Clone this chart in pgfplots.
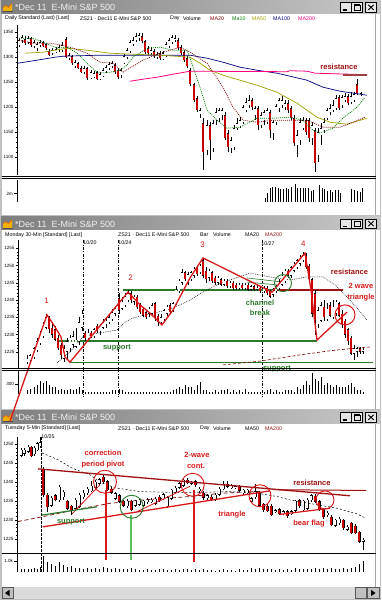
\documentclass[border=0pt]{standalone}
\usepackage{fontspec}
\setmainfont{Liberation Sans}
\usepackage{pgfplots}
\usepackage{pgfplotstable}
\pgfplotsset{compat=1.18}

\definecolor{winbg}{HTML}{C0C0C0}
\definecolor{tbL}{HTML}{7E7E7E}
\definecolor{tbR}{HTML}{C8C8C8}
\definecolor{tbT}{HTML}{F0F0F0}
\definecolor{btn}{HTML}{E6E6E6}
\definecolor{candred}{HTML}{C80000}
\definecolor{annred}{HTML}{D81818}
\definecolor{darkred}{HTML}{A01010}
\definecolor{suppgreen}{HTML}{2A7A2A}
\definecolor{ltgreen}{HTML}{5CBF5C}
\definecolor{maten}{HTML}{008000}
\definecolor{matwenty}{HTML}{800000}
\definecolor{mafifty}{HTML}{A0A000}
\definecolor{mahundred}{HTML}{000080}
\definecolor{matwohundred}{HTML}{FF0080}
\definecolor{icony}{HTML}{F0B000}

\newcommand\tf{\fontsize{4.6}{5}\selectfont}
\newcommand\subf{\fontsize{5.3}{6}\selectfont}
\newcommand\af{\fontsize{7.5}{8}\selectfont\bfseries}

% ---------------- data -----------------
\pgfplotstableread{
x o h l c
19 1323 1337 1319 1333
22 1333 1343 1327 1339
25 1335 1341 1323 1327
28 1329 1341 1325 1337
31 1337 1339 1319 1323
34 1321 1333 1317 1329
37 1317 1329 1311 1325
40 1323 1333 1319 1329
43 1329 1331 1319 1321
46 1325 1327 1313 1317
49 1311 1315 1301 1303
52 1307 1317 1303 1313
56 1309 1319 1307 1315
59 1313 1323 1309 1319
62 1313 1329 1309 1323
66 1335 1339 1297 1299
69 1297 1307 1293 1303
72 1301 1303 1283 1287
75 1281 1293 1277 1289
78 1287 1289 1275 1277
81 1277 1281 1267 1269
84 1269 1281 1265 1277
87 1277 1279 1253 1257
91 1257 1273 1255 1269
94 1259 1271 1257 1267
97 1269 1271 1253 1255
100 1255 1269 1253 1265
103 1261 1277 1259 1273
106 1271 1283 1267 1279
109 1277 1289 1273 1285
112 1281 1291 1277 1287
115 1283 1287 1265 1269
118 1273 1277 1255 1259
121 1263 1277 1257 1273
124 1287 1305 1285 1301
127 1299 1317 1295 1313
130 1311 1333 1307 1329
133 1325 1339 1321 1333
136 1333 1347 1329 1341
139 1337 1347 1331 1343
142 1341 1347 1327 1331
145 1331 1333 1305 1309
148 1317 1321 1303 1307
151 1307 1319 1303 1313
154 1311 1315 1297 1301
157 1299 1309 1295 1305
160 1307 1311 1293 1297
163 1295 1311 1293 1307
166 1301 1329 1299 1325
169 1321 1337 1317 1333
172 1329 1343 1325 1339
175 1333 1343 1329 1337
178 1333 1337 1313 1317
181 1319 1323 1303 1307
184 1309 1313 1289 1293
187 1297 1301 1277 1281
190 1273 1277 1241 1245
194 1245 1247 1209 1213
197 1217 1221 1189 1193
200 1185 1197 1177 1193
203 1167 1177 1073 1109
207 1113 1173 1103 1163
210 1163 1169 1093 1133
213 1117 1173 1109 1167
216 1173 1197 1163 1189
219 1177 1197 1169 1193
222 1183 1197 1173 1193
225 1183 1189 1133 1137
228 1147 1153 1109 1119
231 1117 1139 1107 1133
234 1119 1163 1113 1157
237 1157 1177 1153 1167
240 1161 1179 1157 1173
243 1169 1203 1165 1199
246 1193 1217 1189 1209
249 1203 1223 1197 1213
252 1213 1217 1193 1199
255 1183 1201 1173 1197
258 1197 1201 1153 1163
261 1163 1189 1157 1183
264 1173 1193 1163 1189
267 1169 1197 1165 1193
270 1189 1193 1137 1153
273 1147 1173 1133 1169
276 1169 1205 1163 1201
279 1197 1217 1189 1213
282 1203 1221 1197 1213
285 1199 1213 1193 1207
288 1207 1213 1187 1193
291 1197 1201 1173 1177
294 1177 1183 1121 1127
297 1123 1153 1099 1143
300 1133 1177 1123 1169
303 1157 1179 1153 1173
306 1173 1177 1143 1149
309 1173 1177 1129 1137
312 1137 1169 1123 1163
315 1153 1157 1069 1087
318 1103 1157 1089 1149
321 1143 1167 1123 1157
324 1153 1177 1147 1169
327 1177 1197 1173 1193
330 1189 1205 1183 1197
333 1193 1213 1189 1203
336 1197 1223 1193 1217
339 1219 1223 1193 1197
342 1203 1223 1197 1219
345 1213 1227 1209 1221
348 1221 1225 1203 1207
351 1209 1229 1205 1221
354 1213 1229 1209 1225
357 1245 1255 1223 1227
361 1225 1229 1221 1227
}\dA

\pgfplotstableread{
x v
265 0.8
267.5 2.2
270 3.4
272.7 3.5
275.3 3.5
278 3.4
280.7 3.1
283.3 3.0
286 3.2
288.7 3.1
291.3 3.5
295 4.3
297.7 3.4
300.3 3.3
303 3.2
305.7 3.2
308.3 3.2
311 2.5
313.7 2.7
319.3 4.1
322 3.2
324.7 3.1
327.3 2.6
330 2.9
332.7 2.3
335.3 2.8
338 2.8
340.7 2.2
351.7 3.0
354.3 2.9
357 2.5
360 2.4
362.7 3.3
}\vA

\pgfplotstableread{
x o h l c
27 1222 1224 1221.5 1223
30 1222.5 1224.5 1222 1224
34 1223.5 1226.5 1223 1226
37 1225.5 1229 1225 1228
40 1227.5 1231 1227 1230
43 1229.5 1233.5 1229 1232.5
46 1232 1236 1231.5 1235
49 1235 1235.5 1230.5 1231.5
52 1232 1233.5 1229 1230
55 1231.5 1232.5 1228 1228.5
58 1229 1230 1225.5 1226
61 1227 1227.5 1223 1224
64 1223 1227 1222 1226
67 1225 1229 1222.5 1228
70 1226 1230 1225 1229
73 1227 1231 1226 1229.5
76 1226.5 1232 1226 1228.5
79 1228 1235 1227 1233.5
82 1232 1237 1231 1236
85 1230.5 1231 1228 1229
88 1229 1231.5 1228.5 1230.5
91 1230.5 1231 1229 1229.5
94 1229.5 1232 1229 1231.5
97 1232.5 1233 1230.5 1231
100 1231 1233 1230 1232.5
103 1232 1234.5 1231.5 1233.5
106 1233 1235 1232 1234
109 1233.5 1236 1233 1235
112 1234.5 1237.5 1234 1236.5
115 1236 1238 1235.5 1237.5
119 1240.5 1242 1236 1237
122 1237.5 1241 1237 1239.5
125 1238.5 1242 1238 1241
128 1240 1243 1239.5 1242
131 1242 1242.5 1239 1240
134 1239.5 1241.5 1238.5 1241
137 1241 1241.5 1237.5 1238
140 1238.5 1239 1236 1236.5
143 1237.5 1238 1235 1235.5
146 1236.5 1237 1234.5 1235
149 1236 1238 1235 1237.5
152 1236 1239 1235.5 1238.5
155 1239 1239.5 1234 1235
158 1235.5 1236 1232.5 1233.5
161 1233.5 1236 1233 1235
164 1234.5 1237.5 1234 1237
167 1236 1238.5 1235.5 1238
170 1238.5 1239 1236 1236.5
173 1237 1239.5 1236.5 1239
176 1239 1244 1238.5 1243
179 1242.5 1246 1242 1245.5
182 1245 1249 1244.5 1248
185 1248 1248.5 1245.5 1246
188 1245 1248 1244.5 1247.5
191 1246 1248.5 1245.5 1248
194 1247 1249.5 1246.5 1249
197 1249.5 1250 1247 1247.5
200 1248 1250.5 1247.5 1250
203 1251.5 1252 1246.5 1247
206 1248.5 1249.5 1245 1246
209 1246.5 1249 1245.5 1248.5
212 1248 1248.5 1245 1245.5
215 1246.5 1247 1244.5 1245
218 1245 1247 1244.5 1246.5
221 1246 1246.5 1244 1244.5
224 1244.5 1246 1244 1245.5
227 1245.5 1246 1243.5 1244
230 1244 1245.5 1243.5 1245
233 1245 1245.5 1243 1243.5
236 1244.5 1245 1243 1243.5
239 1243.5 1245 1243 1244.5
242 1244.5 1245 1243 1243.5
245 1243.5 1245 1243 1244.5
248 1244.5 1245 1242.5 1243
251 1243 1244.5 1242.5 1244
254 1244 1244.5 1242.5 1243
257 1243 1244.5 1242.5 1243.5
260 1243.5 1244 1242 1242.5
264 1242.5 1244 1242 1243.5
267 1243.5 1244 1241.5 1242
270 1242.5 1243 1240.5 1241
273 1241.5 1243.5 1241 1243
276 1242.5 1244.5 1242 1244
279 1243.5 1246 1243 1245
282 1244.5 1248 1244 1247
285 1245.5 1249 1245 1248.5
288 1248.5 1249 1246.5 1247
291 1247 1250 1246.5 1249.5
294 1248.5 1251 1248 1250.5
297 1249.5 1252 1249 1251.5
300 1250.5 1253 1250 1252.5
303 1251.5 1254 1251 1253
306 1253 1253.5 1249 1249.5
309 1250 1250.5 1245.5 1246
312 1246 1246.5 1235 1236
315 1242 1243 1230 1234
318 1233 1238 1232 1237
321 1234 1239.5 1233.5 1238.5
324 1238 1240 1234 1235
327 1234.5 1239 1234 1237.5
330 1238.5 1239.5 1235 1235.5
333 1235 1240 1234.5 1238
336 1236 1240 1235.5 1239.5
339 1239 1239.5 1235 1235.5
342 1236 1237 1232 1233
345 1234 1234.5 1229 1230
348 1231.5 1232 1227 1228
351 1229 1229.5 1224 1224.5
354 1224.5 1227 1222.5 1226
357 1225 1226.5 1223.5 1226
360 1226 1226.5 1224.5 1225
363 1225 1226 1224.5 1225.5
}\dB

\pgfplotstableread{
x v
27 95
30 158
34 221
37 284
40 379
43 316
46 379
49 284
52 221
55 190
58 126
61 158
64 95
67 126
70 158
73 126
76 158
79 190
82 95
85 63
88 63
91 63
94 32
97 32
100 63
103 32
106 63
109 63
112 95
115 126
119 158
122 95
125 63
128 63
131 63
134 32
137 63
140 32
143 32
146 32
149 32
152 63
155 32
158 63
161 63
164 32
167 63
170 32
173 95
176 158
179 190
182 158
185 253
188 190
191 221
194 126
197 284
200 348
203 126
206 95
209 63
212 63
215 95
218 63
221 126
224 95
227 158
230 63
233 95
236 63
239 95
242 63
245 158
248 63
251 63
254 32
257 32
260 63
264 63
267 95
270 158
273 63
276 95
279 32
282 63
285 95
288 95
291 126
294 63
297 190
300 158
303 253
306 379
309 253
312 632
315 442
318 379
321 506
324 284
327 316
330 253
333 221
336 284
339 190
342 221
345 190
348 253
351 316
354 190
357 126
360 95
363 63
}\vB

\pgfplotstableread{
x o h l c
21 1247 1249 1246.5 1248.5
24 1247.5 1249 1247 1248.6
28 1248 1249.8 1247.7 1249.3
31 1249.3 1249.6 1246.5 1246.8
34 1247.4 1249.4 1247 1249
37 1248.5 1250.6 1248.2 1250.2
40 1249.5 1251.8 1249 1250.5
43 1243.5 1244 1236 1236.6
47 1236.6 1237 1232 1233.4
51 1233.8 1236.4 1233.4 1235.8
55 1236.5 1236.8 1235 1235.3
59 1235.2 1239.2 1234.7 1238.8
63 1236 1238 1235.4 1237.5
67 1235 1235.4 1232.6 1233
71 1233.8 1234 1231.3 1232.6
75 1233 1235.8 1232.8 1235.3
79 1233.5 1237 1233.2 1236.6
83 1236 1237.8 1235.6 1237.2
87 1237 1238.6 1236.6 1238.2
91 1237.6 1240.2 1237.3 1239
95 1238.5 1240.6 1238.2 1240
99 1239.6 1241.2 1239.2 1240.7
103 1241.4 1241.9 1239.6 1240
107 1240.2 1240.6 1237.6 1237.9
111 1238.2 1238.6 1236.8 1237.2
115 1235.6 1237.4 1235.2 1237
119 1236.5 1236.8 1234.4 1234.8
123 1235 1235.4 1233.4 1233.8
127 1233.6 1235.5 1233.2 1235.1
131 1235 1235.4 1232.3 1232.6
135 1233.8 1235.4 1233.5 1235
139 1234 1235.8 1233.8 1235.4
143 1233.8 1235.4 1233.5 1235
147 1234.7 1235.8 1234.3 1235.4
151 1234.7 1235.8 1234.4 1235.4
155 1234.3 1236.2 1234 1235.6
159 1236.2 1236.6 1234.7 1235
163 1235.5 1237.2 1235.2 1236.8
167 1233.6 1236.4 1233.2 1236
171 1235.6 1238.3 1235.3 1237.9
175 1237.4 1238.9 1237 1238.5
179 1238.5 1240.1 1238.2 1239.7
183 1239.1 1241 1238.8 1240.6
187 1240.6 1241.2 1239.4 1239.7
191 1239.6 1240.4 1239.2 1240
195 1240.2 1240.6 1238.8 1239.2
199 1237.6 1238.6 1237.2 1238.2
203 1237.2 1237.6 1235.4 1235.9
207 1235.7 1236.9 1235.3 1236.5
211 1236.2 1236.6 1234.9 1235.3
215 1235.4 1237.1 1235.1 1236.7
219 1236.7 1238.6 1236.4 1238.2
223 1238.1 1240.2 1237.8 1239.5
227 1239.6 1240.4 1238.4 1238.8
231 1238.4 1239.5 1238.1 1239.1
235 1238.6 1239.2 1238.3 1238.9
239 1238.9 1239.2 1237.3 1237.7
243 1237 1238.3 1236.6 1237.9
247 1237 1238.3 1236.6 1237.9
251 1234.8 1236.1 1234.4 1235.7
255 1236 1239.4 1235.6 1237.6
259 1237.2 1237.6 1233.4 1233.8
263 1234.2 1234.6 1232 1232.6
267 1233.8 1234.2 1232 1232.4
271 1233.8 1234.2 1231 1231.3
275 1232.2 1233 1231.8 1232.6
279 1232.8 1233.2 1231.2 1231.6
283 1231.5 1232.7 1231.2 1232.3
287 1232.3 1232.7 1230.6 1231
291 1231.5 1232.7 1231.2 1232.3
295 1232.5 1235.4 1232.2 1235
299 1235.2 1235.6 1233.3 1233.7
303 1232.6 1235.4 1232.2 1235
307 1233 1235.7 1232.6 1235.3
311 1235.2 1236.9 1234.8 1236.5
315 1236.4 1236.8 1234.4 1234.8
319 1234.9 1235.3 1232.3 1232.7
323 1232.8 1233.2 1230.4 1230.8
327 1231.2 1232.3 1230.8 1231.9
331 1230.9 1231.2 1228.3 1228.7
335 1228.5 1230.4 1228.1 1230
339 1229.2 1230.7 1228.8 1230.3
343 1230 1230.4 1227.4 1227.8
347 1227.5 1228.6 1227.1 1228.2
351 1229.2 1229.6 1226.2 1226.6
355 1228.5 1228.9 1226.2 1226.6
359 1226.9 1227.2 1223.9 1224.3
363 1224.3 1225.2 1222.1 1224.8
}\dC

\pgfplotstableread{
x v
21 281
24 281
28 281
31 281
34 374
37 281
40 468
43 1496
47 935
51 748
55 561
59 935
63 655
67 468
71 561
75 374
79 374
83 281
87 374
91 281
95 374
99 281
103 468
107 374
111 281
115 374
119 281
123 281
127 281
131 374
135 281
139 187
143 187
147 281
151 187
155 187
159 281
163 281
167 187
171 187
175 281
179 187
183 281
187 281
191 187
195 281
199 187
203 281
207 187
211 187
215 94
219 187
223 281
227 187
231 187
235 94
239 281
243 187
247 187
251 374
255 281
259 374
263 281
267 281
271 281
275 187
279 281
283 187
287 281
291 187
295 374
299 281
303 281
307 281
311 281
315 374
319 281
323 374
327 281
331 374
335 281
339 281
343 374
347 281
351 374
355 468
359 748
363 1029
}\vC

% ---------------- helpers -----------------
\newcommand\candles[4]{%
\addplot[draw=none, mark=none, forget plot, error bars/.cd, y dir=plus, y explicit, error mark=none, error bar style={draw=black, line width=0.5pt}] table[x=x, y=l, y error expr=\thisrow{h}-\thisrow{l}] {#1};
\addplot[draw=none, mark=none, forget plot, restrict expr to domain={\thisrow{c}-\thisrow{o}}{0:100000}, error bars/.cd, y dir=plus, y explicit, error mark=none, error bar style={draw=black, line width=#2}] table[x=x, y=o, y error expr=\thisrow{c}-\thisrow{o}] {#1};
\addplot[draw=none, mark=none, forget plot, restrict expr to domain={\thisrow{c}-\thisrow{o}}{0:100000}, error bars/.cd, y dir=plus, y explicit, error mark=none, error bar style={draw=white, line width=#3}] table[x=x, y expr=\thisrow{o}+#4, y error expr={max(\thisrow{c}-\thisrow{o}-2*#4,0)}] {#1};
\addplot[draw=none, mark=none, forget plot, restrict expr to domain={\thisrow{c}-\thisrow{o}}{-100000:-0.00001}, error bars/.cd, y dir=plus, y explicit, error mark=none, error bar style={draw=black, line width=#2}] table[x=x, y=c, y error expr=\thisrow{o}-\thisrow{c}] {#1};
\addplot[draw=none, mark=none, forget plot, restrict expr to domain={\thisrow{c}-\thisrow{o}}{-100000:-0.00001}, error bars/.cd, y dir=plus, y explicit, error mark=none, error bar style={draw=candred, line width=#3}] table[x=x, y expr=\thisrow{c}+#4, y error expr={max(\thisrow{o}-\thisrow{c}-2*#4,0)}] {#1};
}

\newcommand\titlebar[1]{%
\shade[left color=tbL, right color=tbR] (1,#1) rectangle (380,#1+13);
\fill[icony] (3,#1+11) -- (3,#1+7) -- (6,#1+5) -- (8.5,#1+7) -- (12,#1+3) -- (12,#1+11) -- cycle;
\draw[black!70, line width=0.5] (2.5,#1+11) -- (12.5,#1+11);
\draw[orange!80!red, line width=0.6] (3,#1+7) -- (6,#1+5) -- (8.5,#1+7) -- (12,#1+3);
\node[anchor=west, text=tbT, font=\fontsize{9}{9}\selectfont, inner sep=0] at (15,#1+7) {*Dec 11\hspace{5pt}E-Mini S\&P 500};
\foreach \bx in {340,351.5,365.5}{%
  \fill[btn] (\bx,#1+2) rectangle (\bx+11,#1+11.5);
  \draw[black, line width=0.5] (\bx,#1+2) rectangle (\bx+11,#1+11.5);
}
\draw[black, line width=1.2] (342.5,#1+9.5) -- (347,#1+9.5);
\draw[black, line width=0.6] (354,#1+4.3) rectangle (360,#1+9.8);
\draw[black, line width=1.3] (354,#1+4.6) -- (360,#1+4.6);
\draw[black, line width=0.9] (368.3,#1+4.3) -- (373.7,#1+9.3) (368.3,#1+9.3) -- (373.7,#1+4.3);
}

\pgfplotsset{
 pbase/.style={scale only axis, anchor=north west, xmin=17, xmax=375,
   axis x line=none, axis y line*=left,
   axis line style={black, line width=0.6pt},
   tick align=outside, major tick length=2.5pt, minor tick length=1.3pt,
   tick style={black, line width=0.4pt},
   yticklabel style={font=\tf, inner sep=0.8pt},
   xticklabel style={font=\tf, inner sep=1pt},
   filter discard warning=false},
 vbase/.style={pbase, axis x line*=bottom, ymin=0, major tick length=3pt}
}

\begin{document}
\begin{tikzpicture}[x=1pt,y=-1pt]
\fill[winbg] (0,0) rectangle (381,600);
\fill[white] (1.5,14) rectangle (379.5,214.5);
\fill[white] (1.5,230) rectangle (379.5,409);
\fill[white] (1.5,423.5) rectangle (379.5,587);
\titlebar{0.5}
\titlebar{216.8}
\titlebar{410.5}
\draw[black!35, line width=0.8] (375.5,14) -- (375.5,214.5) (375.5,230) -- (375.5,409) (375.5,423.5) -- (375.5,587);
% scrollbar
\fill[black!14] (1.5,587.3) rectangle (379.5,598.7);
\fill[winbg] (2,587.5) rectangle (13,598.5);
\draw[black!65, line width=0.5] (2,587.5) rectangle (13,598.5);
\fill[black] (5,593) -- (9.5,589.8) -- (9.5,596.2) -- cycle;
\fill[winbg] (355,587.5) rectangle (366.5,598.5);
\draw[black!65, line width=0.5] (355,587.5) rectangle (366.5,598.5);
\fill[winbg] (367,587.5) rectangle (379,598.5);
\draw[black!65, line width=0.5] (367,587.5) rectangle (379,598.5);
\fill[black] (375.5,593) -- (371,589.8) -- (371,596.2) -- cycle;

% subtitles
\node[anchor=west, inner sep=0, font=\subf] at (5,18.6) {Daily Standard (Last) [Last]};
\node[anchor=west, inner sep=0, font=\subf] at (80,18.6) {ZS21 · Dec11 E-Mini S\&P 500};
\node[anchor=west, inner sep=0, font=\subf] at (170,18.6) {Day};
\node[anchor=west, inner sep=0, font=\subf] at (183,18.6) {Volume};
\node[anchor=west, inner sep=0, font=\subf, text=matwenty] at (210,18.6) {MA20};
\node[anchor=west, inner sep=0, font=\subf, text=maten] at (232,18.6) {Ma10};
\node[anchor=west, inner sep=0, font=\subf, text=mafifty] at (252,18.6) {MA50};
\node[anchor=west, inner sep=0, font=\subf, text=mahundred] at (273,18.6) {MA100};
\node[anchor=west, inner sep=0, font=\subf, text=matwohundred] at (298,18.6) {MA200};

\node[anchor=west, inner sep=0, font=\subf] at (5,235) {Monday 30-Min [Standard] [Last]};
\node[anchor=west, inner sep=0, font=\subf] at (118,235) {ZS21 · Dec11 E-Mini S\&P 500};
\node[anchor=west, inner sep=0, font=\subf] at (200,235) {Bar};
\node[anchor=west, inner sep=0, font=\subf] at (213,235) {Volume};
\node[anchor=west, inner sep=0, font=\subf] at (245,235) {MA20};
\node[anchor=west, inner sep=0, font=\subf, text=darkred] at (265,235) {MA200};

\node[anchor=west, inner sep=0, font=\subf] at (5,428.3) {Tuesday 5-Min [Standard] [Last]};
\node[anchor=west, inner sep=0, font=\subf] at (118,428.3) {ZS21 · Dec11 E-Mini S\&P 500};
\node[anchor=west, inner sep=0, font=\subf] at (200,428.3) {Day};
\node[anchor=west, inner sep=0, font=\subf] at (213,428.3) {Volume};
\node[anchor=west, inner sep=0, font=\subf] at (245,428.3) {MA50};
\node[anchor=west, inner sep=0, font=\subf, text=darkred] at (265,428.3) {MA200};

% ================= PANEL 1 =================
\begin{axis}[pbase, at={(17pt,-25pt)}, width=358pt, height=150pt,
  ymin=1063.4, ymax=1363.4, ytick={1100,1150,1200,1250,1300,1350},
  yticklabels={1100,1150,1200,1250,1300,1350}, minor y tick num=4]
\candles{\dA}{2.4pt}{1.5pt}{0.9}
\addplot[mahundred, line width=0.7pt] coordinates {(18,1287) (37,1293) (55,1299) (63,1301) (100,1303) (150,1303) (190,1303) (207,1297) (223,1289) (240,1279) (257,1273) (277,1267) (290,1261) (307,1253) (323,1239) (340,1231) (367,1223)};
\addplot[mafifty, line width=0.7pt] coordinates {(25,1307) (43,1309) (67,1317) (87,1313) (110,1307) (133,1305) (160,1303) (190,1299) (200,1287) (210,1273) (223,1263) (240,1253) (257,1243) (277,1229) (297,1207) (317,1179) (330,1169) (347,1165) (367,1177)};
\addplot[matwohundred, line width=0.8pt] coordinates {(130,1251) (143,1255) (157,1259) (173,1265) (190,1271) (287,1270) (290,1272) (307,1271) (315,1267) (367,1264)};
\addplot[matwenty, line width=0.7pt, dash pattern=on 1pt off 1pt] coordinates {(19,1333) (33,1327) (50,1327) (62,1323) (73,1317) (87,1307) (100,1289) (113,1287) (123,1269) (143,1293) (160,1307) (180,1319) (190,1309) (207,1287) (223,1239) (233,1199) (243,1173) (257,1169) (273,1173) (290,1173) (307,1173) (323,1159) (340,1159) (353,1169) (365,1179)};
\addplot[maten, line width=0.7pt, dash pattern=on 1pt off 1pt] coordinates {(19,1337) (33,1337) (50,1323) (58,1317) (67,1319) (77,1307) (87,1287) (98,1267) (110,1269) (120,1273) (127,1283) (133,1299) (147,1317) (160,1319) (173,1313) (187,1313) (190,1297) (200,1239) (207,1193) (217,1173) (227,1157) (240,1159) (257,1177) (273,1177) (290,1179) (303,1173) (313,1153) (320,1147) (333,1157) (343,1177) (357,1199) (365,1219)};
\addplot[color={rgb,255:red,160;green,64;blue,64}, line width=2.2pt] coordinates {(343,1263) (367,1263)};
\end{axis}

\begin{axis}[vbase, at={(17pt,-180pt)}, width=358pt, height=21.7pt, ymax=5.23,
  ytick={2}, yticklabels={2m},
  xtick={63,130,190,253,313}, xticklabels={Jun,Jul,Aug,Sep,Oct},
  minor xtick={18,33,48,78,93,108,145,160,175,205,220,235,268,283,298,328,343,358}]
\addplot[ycomb, draw=black, line width=0.75pt, mark=none] table[x=x, y=v] {\vA};
\end{axis}

% ================= PANEL 2 =================
\begin{axis}[pbase, at={(18pt,-240pt)}, width=357pt, height=128pt, clip=false, xmin=18,
  ymin=1220.3, ymax=1257.4, ytick={1225,1230,1235,1240,1245,1250,1255},
  yticklabels={1225,1230,1235,1240,1245,1250,1255}, minor y tick num=4]
\addplot[black, line width=0.5pt, dash pattern=on 3pt off 1.5pt on 0.8pt off 1.5pt] coordinates {(83,1257.4) (83,1211.9)};
\addplot[black, line width=0.5pt, dash pattern=on 3pt off 1.5pt on 0.8pt off 1.5pt] coordinates {(118,1257.4) (118,1211.9)};
\addplot[black, line width=0.5pt, dash pattern=on 3pt off 1.5pt on 0.8pt off 1.5pt] coordinates {(262,1257.4) (262,1211.9)};
\addplot[suppgreen, line width=1.2pt] coordinates {(123,1242.9) (273,1242.9)};
\addplot[darkred, line width=1.2pt] coordinates {(273,1242.9) (343,1242.9)};
\addplot[suppgreen, line width=1.2pt] coordinates {(58,1228.1) (317,1228.1)};
\addplot[suppgreen, line width=1.2pt] coordinates {(70,1222) (373,1222)};
\addplot[suppgreen, line width=0.6pt] coordinates {(247,1246.4) (283,1245.2)};
\addplot[suppgreen, line width=0.6pt] coordinates {(247,1245.2) (277,1244.4)};
\addplot[matwenty, line width=0.6pt, dash pattern=on 3pt off 2pt] coordinates {(223,1221.2) (260,1222.3) (300,1224.1) (330,1225.3) (357,1226.1) (370,1226.4)};
\addplot[black, line width=0.5pt, dash pattern=on 0.8pt off 1pt] coordinates {(57,1221.8) (70,1225) (83,1229.4) (100,1230.5) (117,1231.3) (125,1233.6) (133,1234.8) (150,1236) (167,1237.1) (180,1238.6) (190,1240) (203,1242.3) (217,1244.4) (230,1245.8) (250,1247.8) (270,1246.7) (290,1245.8) (307,1246.7) (323,1246.7) (335,1244.4) (347,1240.9) (357,1237.7) (367,1234.2)};
\candles{\dB}{2.4pt}{1.5pt}{0.12}
\addplot[annred, line width=1.3pt] coordinates {(10,1204.9) (47,1235.7) (55,1232.2) (61,1229.3) (65,1223.5) (70,1222) (128,1242.3) (140,1238.6) (150,1236.2) (162,1232.8) (173,1237.1) (190,1246.4) (203,1252.2) (272,1242.3) (305,1253.6) (311,1242.9) (317,1228.4) (347,1236.5)};
\addplot[only marks, mark=o, mark size=8.5pt, mark options={draw=suppgreen, line width=0.9pt}] coordinates {(283,1244.9)};
\addplot[only marks, mark=o, mark size=10pt, mark options={draw=annred, line width=1pt}] coordinates {(345,1235.7)};
\end{axis}

\begin{axis}[vbase, at={(18pt,-371pt)}, width=357pt, height=22.5pt, xmin=18, ymax=710,
  ytick={300}, yticklabels={300},
  xtick={39,68,101,126,149,173,196,220,245,270,291,316,338,363},
  xticklabels={9:00,13:30,20:00,1:30,5:00,9:30,13:00,16:30,20:00,1:00,5:00,9:00,12:30,16:00},
  minor xtick={21,24.7,...,372}]
\addplot[ycomb, draw=black, line width=0.7pt, mark=none] table[x=x, y=v] {\vB};
\end{axis}

% ================= PANEL 3 =================
\begin{axis}[pbase, at={(17pt,-437pt)}, width=358pt, height=116pt, clip=false,
  ymin=1221.3, ymax=1251.9, ytick={1225,1230,1235,1240,1245,1250},
  yticklabels={1225,1230,1235,1240,1245,1250}, minor y tick num=4]
\addplot[black, line width=0.5pt, dash pattern=on 2.5pt off 1.5pt] coordinates {(41,1251.9) (41,1216.3)};
\addplot[matwenty, line width=0.7pt, dash pattern=on 4pt off 2.5pt] coordinates {(18,1229.6) (43,1230.9) (83,1233.1) (110,1234.4) (143,1235.3) (190,1236.2) (223,1237.1) (262,1237.6)};
\addplot[black, line width=0.5pt, dash pattern=on 2pt off 2pt] coordinates {(42,1247.7) (58,1245.9) (72,1243.7) (90,1241.9) (100,1240) (115,1238.5) (140,1237.5) (170,1237.3) (200,1237.3) (230,1237.5) (255,1237.2) (277,1236.2) (290,1235.3) (337,1233.1) (357,1231.6) (365,1230.6)};
\candles{\dC}{3pt}{2pt}{0.1}
\addplot[darkred, line width=1.3pt] coordinates {(38,1243.5) (350,1236.4)};
\addplot[darkred, line width=1pt] coordinates {(273,1238) (366,1237.8)};
\addplot[annred, line width=1.3pt] coordinates {(43,1228.2) (270,1237.7)};
\addplot[annred, line width=0.8pt] coordinates {(72,1231.6) (100,1239.3)};
\addplot[annred, line width=0.8pt] coordinates {(137,1232.2) (190,1238.9)};
\addplot[annred, line width=1.2pt] coordinates {(280,1231.5) (330,1233.1)};
\addplot[suppgreen, line width=1.2pt] coordinates {(42,1231.3) (97,1233.5)};
\addplot[annred, line width=1.2pt] coordinates {(106,1238) (106,1219.5)};
\addplot[ltgreen, line width=1.2pt] coordinates {(131,1231.3) (131,1219.5)};
\addplot[annred, line width=1.2pt] coordinates {(194,1238) (194,1219)};
\addplot[only marks, mark=o, mark size=11.5pt, mark options={draw=annred, line width=0.9pt}] coordinates {(105,1240.1) (192.7,1239.3)};
\addplot[only marks, mark=o, mark size=11pt, mark options={draw=annred, line width=0.9pt}] coordinates {(260,1236.4)};
\addplot[only marks, mark=o, mark size=9pt, mark options={draw=annred, line width=0.9pt}] coordinates {(325,1235.3)};
\addplot[only marks, mark=o, mark size=11.5pt, mark options={draw=suppgreen, line width=0.9pt}] coordinates {(131.7,1233.5)};
\end{axis}

\begin{axis}[vbase, at={(17pt,-554pt)}, width=358pt, height=17.7pt, ymax=1654,
  ytick={1000}, yticklabels={1.0k},
  xtick={19,44,69,94,119,145,170,195,219,244,269,294,319,344},
  xticklabels={15:30,9:30,10:00,10:30,11:00,11:30,12:00,12:30,13:00,13:30,14:00,14:30,15:00,15:30},
  minor xtick={21,25,...,370}]
\addplot[ycomb, draw=black, line width=0.9pt, mark=none] table[x=x, y=v] {\vC};
\end{axis}

% ---------- annotation text ----------
\node[font=\af, text=darkred] at (339,67) {resistance};

\node[font=\subf] at (90,243) {10/20};
\node[font=\subf] at (125,243) {10/24};
\node[font=\subf] at (268,243.5) {10/27};
\node[font=\fontsize{8}{8}\selectfont, text=annred] at (46.7,300.5) {1};
\node[font=\fontsize{8}{8}\selectfont, text=annred] at (130.7,278) {2};
\node[font=\fontsize{8}{8}\selectfont, text=annred] at (202.7,245) {3};
\node[font=\fontsize{8}{8}\selectfont, text=annred] at (303.3,243.3) {4};
\node[font=\af, text=darkred] at (349.5,272) {resistance};
\node[font=\af, text=annred] at (361,286) {2 wave};
\node[font=\af, text=annred] at (361,298) {triangle};
\node[font=\af, text=suppgreen] at (260,303) {channel};
\node[font=\af, text=suppgreen] at (260,313) {break};
\node[font=\af, text=suppgreen] at (117,348) {support};
\node[font=\af, text=suppgreen] at (277,369) {support};

\node[font=\subf] at (48,436.5) {10/25};
\node[font=\af, text=annred] at (103,453) {correction};
\node[font=\af, text=annred] at (103,465) {period pivot};
\node[font=\af, text=annred] at (197,455) {2-wave};
\node[font=\af, text=annred] at (196,466) {cont.};
\node[font=\af, text=darkred] at (312,483) {resistance};
\node[font=\af, text=annred] at (232,515) {triangle};
\node[font=\af, text=annred] at (309,524) {bear flag};
\node[font=\af, text=suppgreen] at (71,522) {support};

% ---------- separators ----------
\draw[black, line width=0.9] (1.5,176.4) -- (375.5,176.4) (1.5,178.9) -- (375.5,178.9);
\draw[black, line width=0.9] (1.5,368.4) -- (375.5,368.4) (1.5,370.9) -- (375.5,370.9);
\draw[black, line width=1.2] (1.5,553.4) -- (375.5,553.4);

\pgfresetboundingbox
\path[use as bounding box] (0,0) rectangle (381,600);
\end{tikzpicture}
\end{document}
